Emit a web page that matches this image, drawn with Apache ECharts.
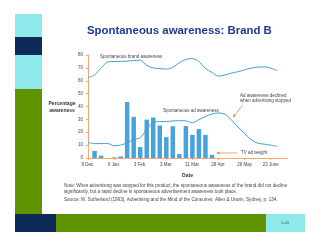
<!DOCTYPE html>
<html>
<head>
<meta charset="utf-8">
<script src="https://cdn.jsdelivr.net/npm/echarts@6/dist/echarts.min.js"></script>
<style>
  html, body { margin: 0; padding: 0; background: #fff; }
  #chart { width: 320px; height: 247px; }
</style>
</head>
<body>
<div id="chart"></div>
<script>
// weekly readings, week 0 = 9 Dec.
var tickLabels = ['9 Dec.', '6 Jan.', '3 Feb.', '3 Mar.', '31 Mar.', '28 Apr.', '26 May', '23 June'];
var brandAwareness = [62.5, 64.5, 70, 74.5, 75, 75, 75.3, 75.7, 76, 72, 70, 69.5, 69, 70.5, 74,
    76.6, 77.2, 75, 69.5, 66.5, 63.6, 64.5, 66, 67, 68.5, 69.8, 70.5, 70.8, 69.8, 67.8];
var adAwareness = [12, 11.2, 11.2, 11.3, 9.5, 10, 11.8, 14.3, 15.8, 22, 27.5, 28.3, 28.3, 28.8, 29,
    28.8, 27.5, 29.8, 32.2, 34.2, 35, 34, 29.5, 24, 19, 14.2, 11.5, 10.8, 10, 9];
var tvAdWeight = [0, 5.5, 1.8, 0, 0.5, 1.2, 43.5, 32, 8.5, 29.8, 31.4, 25.3, 16.2, 24.7, 3,
    24.8, 18, 22.5, 18, 2.5];

var blue = '#3d9fd8';
var orange = '#f4a673';
var arrowOrange = '#ee8a45';
var cyan = '#8eeaea', navy = '#0e2b57', green = '#5f9400';

function pairs(arr) {
    return arr.map(function (v, i) { return [i, v]; });
}

var myChart = echarts.init(document.getElementById('chart'));

var option = {
    animation: false,
    title: {
        text: 'Spontaneous awareness: Brand B',
        left: 82,
        top: 20,
        textStyle: { fontSize: 11.4, fontWeight: 'bold', color: '#1e3a96', fontFamily: 'Liberation Sans' }
    },
    grid: { left: 88, right: 33, top: 55, bottom: 89 },
    xAxis: {
        type: 'value',
        min: 0,
        max: 30.5,
        interval: 4,
        name: 'Date',
        nameLocation: 'middle',
        nameGap: 15,
        nameTextStyle: { fontSize: 5, fontWeight: 'bold', color: '#333', fontFamily: 'Liberation Sans' },
        axisLine: { lineStyle: { color: orange, width: 1 } },
        axisTick: { length: 2, lineStyle: { color: orange } },
        splitLine: { show: false },
        axisLabel: {
            fontSize: 4.5, color: '#444', margin: 4, showMaxLabel: false, fontFamily: 'Liberation Sans',
            formatter: function (v) { return v % 4 === 0 ? (tickLabels[v / 4] || '') : ''; }
        }
    },
    yAxis: {
        type: 'value',
        min: 0,
        max: 80,
        interval: 10,
        axisLine: { show: true, lineStyle: { color: orange, width: 1 } },
        axisTick: { show: true, length: 2, lineStyle: { color: orange } },
        splitLine: { show: false },
        axisLabel: { fontSize: 4.5, color: '#444', margin: 5, fontFamily: 'Liberation Sans' }
    },
    series: [
        {
            name: 'TV ad weight',
            type: 'bar',
            barWidth: 4.5,
            itemStyle: { color: '#4aa2dc' },
            data: pairs(tvAdWeight)
        },
        {
            name: 'Spontaneous brand awareness',
            type: 'line',
            smooth: 0.3,
            symbol: 'none',
            lineStyle: { color: blue, width: 1 },
            data: pairs(brandAwareness)
        },
        {
            name: 'Spontaneous ad awareness',
            type: 'line',
            smooth: 0.3,
            symbol: 'none',
            lineStyle: { color: blue, width: 1 },
            data: pairs(adAwareness)
        }
    ],
    graphic: [
        // slide frame
        { type: 'rect', shape: { x: 15, y: 14, width: 27, height: 23 }, style: { fill: cyan } },
        { type: 'rect', shape: { x: 15, y: 37, width: 27, height: 18 }, style: { fill: navy } },
        { type: 'rect', shape: { x: 15, y: 55, width: 27, height: 34 }, style: { fill: cyan } },
        { type: 'rect', shape: { x: 15, y: 89, width: 27, height: 125 }, style: { fill: green } },
        { type: 'rect', shape: { x: 15, y: 214, width: 41, height: 18 }, style: { fill: navy } },
        { type: 'rect', shape: { x: 56, y: 214, width: 210, height: 18 }, style: { fill: green } },
        { type: 'rect', shape: { x: 266, y: 214, width: 39, height: 18 }, style: { fill: cyan } },
        { type: 'text', x: 285, y: 223, style: { text: '5-40', fontSize: 4, fill: '#555', align: 'center', verticalAlign: 'middle', fontFamily: 'Liberation Sans' } },
        // y axis title
        { type: 'text', x: 62, y: 107, style: { text: 'Percentage\nawareness', fontSize: 5, fontWeight: 'bold', fill: '#333', align: 'center', verticalAlign: 'middle', lineHeight: 7, fontFamily: 'Liberation Sans' } },
        // annotations
        { type: 'text', x: 100, y: 57, style: { text: 'Spontaneous brand awareness', fontSize: 4.5, fill: '#444', verticalAlign: 'middle', fontFamily: 'Liberation Sans' } },
        { type: 'text', x: 163, y: 111, style: { text: 'Spontaneous ad awareness', fontSize: 4.5, fill: '#444', verticalAlign: 'middle', fontFamily: 'Liberation Sans' } },
        { type: 'text', x: 240, y: 98.5, style: { text: 'Ad awareness declined\nwhen advertising stopped', fontSize: 4.5, fill: '#444', verticalAlign: 'middle', lineHeight: 5.5, fontFamily: 'Liberation Sans' } },
        { type: 'text', x: 241, y: 153, style: { text: 'TV ad weight', fontSize: 4.5, fill: '#444', verticalAlign: 'middle', fontFamily: 'Liberation Sans' } },
        { type: 'line', shape: { x1: 243, y1: 105, x2: 234, y2: 116 }, style: { stroke: arrowOrange, lineWidth: 0.8 } },
        { type: 'polygon', shape: { points: [[233, 117.5], [233.5, 113.8], [236, 115.8]] }, style: { fill: arrowOrange } },
        { type: 'line', shape: { x1: 237, y1: 153, x2: 218, y2: 153 }, style: { stroke: arrowOrange, lineWidth: 0.8 } },
        { type: 'polygon', shape: { points: [[216, 153], [219.5, 151.6], [219.5, 154.4]] }, style: { fill: arrowOrange } },
        // notes
        { type: 'text', x: 64, y: 189, style: { text: 'Note: When advertising was stopped for this product, the spontaneous awareness of the brand did not decline\nsignificantly, but a rapid decline in spontaneous advertisement awareness took place.', fontSize: 4.6, fill: '#444', verticalAlign: 'middle', lineHeight: 5.8, fontFamily: 'Liberation Sans' } },
        { type: 'text', x: 64, y: 200, style: { text: 'Source: M. Sutherland (1993), Advertising and the Mind of the Consumer, Allen & Unwin, Sydney, p. 134.', fontSize: 4.6, fill: '#444', verticalAlign: 'middle', fontFamily: 'Liberation Sans' } }
    ]
};

myChart.setOption(option);
window.addEventListener('resize', function () {
    myChart.resize();
});
</script>
</body>
</html>
